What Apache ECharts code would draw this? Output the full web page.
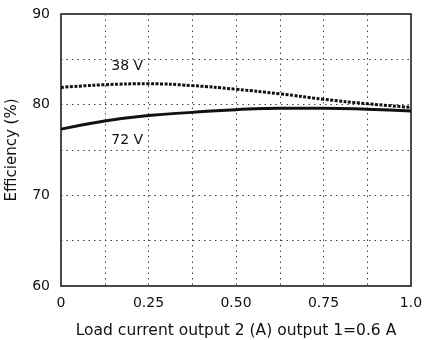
<!DOCTYPE html>
<html>
<head>
<meta charset="utf-8">
<script src="https://cdn.jsdelivr.net/npm/echarts@6/dist/echarts.min.js"></script>
<style>
  html, body { margin: 0; padding: 0; background: #fff; }
  #chart { width: 425px; height: 340px; }
</style>
</head>
<body>
<div id="chart"></div>
<script>
// load current (A), efficiency (%)
const loadCurrent = [0, 0.125, 0.25, 0.375, 0.5, 0.625, 0.75, 0.875, 1.0]
const eff38V = [81.9, 82.2, 82.3, 82.1, 81.7, 81.2, 80.6, 80.1, 79.7]
const eff72V = [77.3, 78.2, 78.8, 79.15, 79.45, 79.6, 79.6, 79.5, 79.3]
const xTickLabels = { 0: '0', 0.25: '0.25', 0.5: '0.50', 0.75: '0.75', 1: '1.0' }
const yTickLabels = [60, 70, 80, 90]

const font = 'DejaVu Sans, Liberation Sans, sans-serif'
const chart = echarts.init(document.getElementById('chart'))

const pairs = (ys) => loadCurrent.map((x, i) => [x, ys[i]])

function curveLabel(text, coord) {
  return {
    symbol: 'circle',
    symbolSize: 0,
    itemStyle: { color: 'transparent' },
    label: { show: true, position: 'inside', formatter: text, color: '#111', fontSize: 14, fontFamily: font },
    data: [{ coord }],
  }
}

chart.setOption({
  animation: false,
  grid: {
    left: 61,
    right: 14,
    top: 14,
    bottom: 54,
    outerBoundsMode: 'none',
    show: true,
    borderColor: '#111',
    borderWidth: 1.5,
  },
  xAxis: {
    type: 'value',
    min: 0,
    max: 1,
    interval: 0.125,
    name: 'Load current output 2 (A) output 1=0.6 A',
    nameLocation: 'middle',
    nameGap: 37,
    nameTextStyle: { color: '#111', fontSize: 15.5, fontFamily: font },
    axisLine: { show: false },
    axisTick: { show: false },
    axisLabel: {
      color: '#111',
      fontSize: 14,
      fontFamily: font,
      margin: 10,
      formatter: (v) => xTickLabels[Math.round(v * 1000) / 1000] ?? '',
    },
    splitLine: { lineStyle: { color: '#444', width: 1, type: [1.5, 4] } },
  },
  yAxis: {
    type: 'value',
    min: 60,
    max: 90,
    interval: 5,
    name: 'Efficiency (%)',
    nameLocation: 'middle',
    nameGap: 41,
    nameTextStyle: { color: '#111', fontSize: 15, fontFamily: font },
    axisLine: { show: false },
    axisTick: { show: false },
    axisLabel: {
      color: '#111',
      fontSize: 14,
      fontFamily: font,
      margin: 11,
      formatter: (v) => (yTickLabels.includes(v) ? String(v) : ''),
    },
    splitLine: { lineStyle: { color: '#444', width: 1, type: [1.5, 4] } },
  },
  series: [
    {
      name: '38 V',
      type: 'line',
      smooth: true,
      showSymbol: false,
      data: pairs(eff38V),
      lineStyle: { color: '#111', width: 3, type: [3, 1.5] },
      markPoint: curveLabel('38 V', [0.189, 84.2]),
    },
    {
      name: '72 V',
      type: 'line',
      smooth: true,
      showSymbol: false,
      data: pairs(eff72V),
      lineStyle: { color: '#111', width: 3 },
      markPoint: curveLabel('72 V', [0.189, 76.1]),
    },
  ],
})
</script>
</body>
</html>
